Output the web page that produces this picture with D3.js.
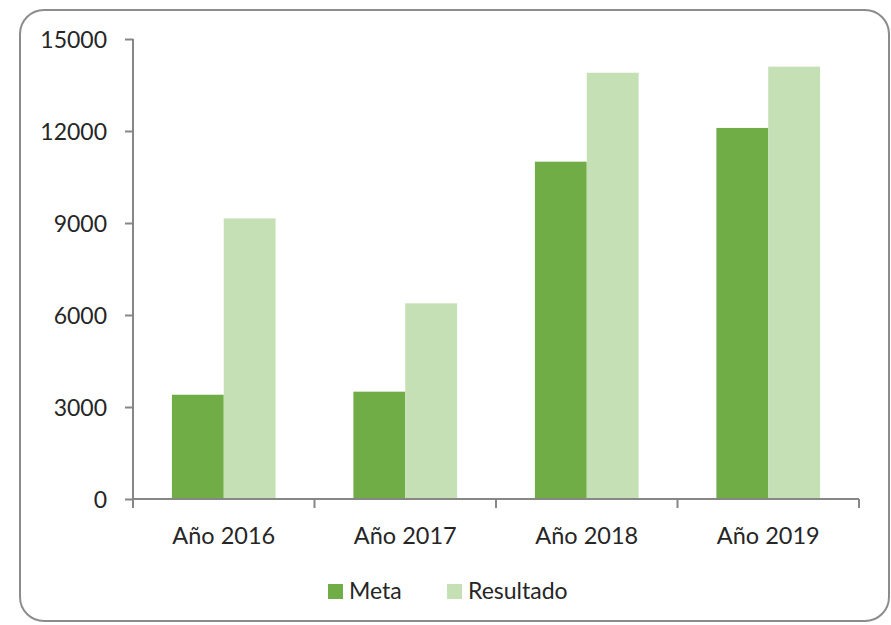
<!DOCTYPE html>
<html><head><meta charset="utf-8">
<script src="https://cdn.jsdelivr.net/npm/d3@7"></script>
<style>body{margin:0;background:#fff}svg{display:block}text{font-family:Lato,"Open Sans",sans-serif;fill:#262626}</style>
</head><body><svg id="c" width="891" height="625"></svg>
<script>
const categories = ["Año 2016","Año 2017","Año 2018","Año 2019"];
const seriesNames = ["Meta","Resultado"];
const meta = [3400, 3500, 11000, 12100];
const resultado = [9150, 6380, 13900, 14100];
const yTicks = [0,3000,6000,9000,12000,15000];
const colors = ["#70AD47","#C5E0B4"];

const svg = d3.select("#c");
svg.append("rect").attr("x",20).attr("y",10).attr("width",869).attr("height",611)
  .attr("rx",24).attr("ry",24).attr("fill","#fff").attr("stroke","#8c8c8c").attr("stroke-width",2);

const x0 = 133, x1 = 859, yTop = 39, yBot = 499;
const x = d3.scaleBand().domain(categories).range([x0,x1]).padding(0);
const y = d3.scaleLinear().domain([0,15000]).range([yBot,yTop]);
const bw = x.bandwidth()/3.5;
const xs = d3.scaleBand().domain(seriesNames).range([0.75*bw, 2.75*bw]).padding(0);

const data = [meta, resultado];
const g = svg.append("g");
seriesNames.forEach((s,si)=>{
  g.selectAll(null).data(categories).enter().append("rect")
    .attr("x",c=>x(c)+xs(s)).attr("width",xs.bandwidth())
    .attr("y",(c,i)=>y(data[si][i])).attr("height",(c,i)=>yBot-y(data[si][i]))
    .attr("fill",colors[si]);
});

const yAxis = svg.append("g").attr("transform",`translate(${x0},0)`)
  .call(d3.axisLeft(y).tickValues(yTicks).tickSize(8).tickPadding(18).tickFormat(d3.format("d")));
yAxis.select(".domain").attr("d",`M0,${yTop}V${yBot}`);
const xAxis = svg.append("g").attr("transform",`translate(0,${yBot})`)
  .call(d3.axisBottom(x).tickSize(0).tickPadding(28));
xAxis.select(".domain").attr("d",`M${x0},0H${x1}`);
xAxis.selectAll(null).data(categories.concat([null])).enter().append("line")
  .attr("x1",(c,i)=>x0+i*x.bandwidth()).attr("x2",(c,i)=>x0+i*x.bandwidth())
  .attr("y1",0).attr("y2",9);
svg.selectAll(".domain, .tick line, g line").attr("stroke","#878787").attr("stroke-width",2);
svg.selectAll(".tick text").style("font-size","23px").attr("fill","#262626");
xAxis.selectAll(".tick text").style("font-size","23.5px");
yAxis.selectAll(".tick text").attr("dy","0.36em");

const legend = svg.append("g");
const lx = [328, 447];
seriesNames.forEach((s,i)=>{
  legend.append("rect").attr("x",lx[i]).attr("y",584).attr("width",15).attr("height",15).attr("fill",colors[i]);
  legend.append("text").attr("x",lx[i]+21).attr("y",598.5).style("font-size","23px").text(s);
});
</script></body></html>
